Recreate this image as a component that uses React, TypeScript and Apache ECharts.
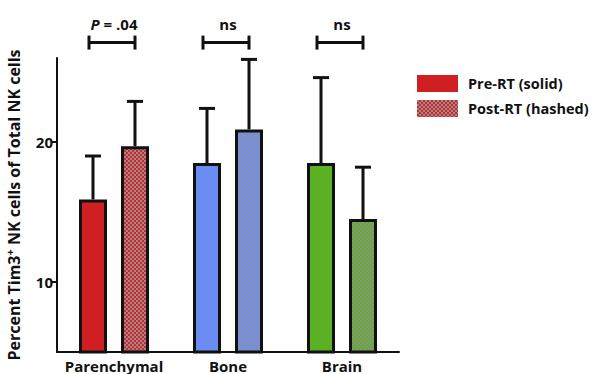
import React, { useEffect, useRef } from 'react';
import * as echarts from 'echarts';

const categories = ['Parenchymal', 'Bone', 'Brain'];
const preValues = [15.9, 18.5, 18.5];
const preErrTop = [19.0, 22.4, 24.6];
const postValues = [19.7, 20.9, 14.5];
const postErrTop = [22.9, 25.9, 18.2];
const sigLabels = ['{i|P} = .04', 'ns', 'ns'];
const sigLevel = [27.1, 27.1, 27.1];
const yTicks = [10, 20];

const solidColors = ['#d01f22', '#6b8cf3', '#5cb024'];
const checkerColors: [string, string][] = [
  ['#d2262b', '#9b8a8b'],
  ['#6d8ff2', '#8b90aa'],
  ['#5db027', '#8a9282'],
];

const FONT = '"Open Sans", "DejaVu Sans", sans-serif';

function makeChecker(a: string, b: string) {
  const c = document.createElement('canvas');
  c.width = 4;
  c.height = 4;
  const ctx = c.getContext('2d')!;
  ctx.fillStyle = a;
  ctx.fillRect(0, 0, 4, 4);
  ctx.fillStyle = b;
  ctx.fillRect(0, 0, 2, 2);
  ctx.fillRect(2, 2, 2, 2);
  return { image: c, repeat: 'repeat', imageWidth: 4, imageHeight: 4 } as any;
}

const BAR_W = 28;
const OFFSET = 21;

function errorRenderer(offset: number) {
  return (params: any, api: any) => {
    const base = api.coord([api.value(0), api.value(1)]);
    const top = api.coord([api.value(0), api.value(2)]);
    const x = base[0] + offset;
    return {
      type: 'group',
      children: [
        { type: 'line', shape: { x1: x, y1: base[1], x2: x, y2: top[1] }, style: { stroke: '#111', lineWidth: 3 } },
        { type: 'line', shape: { x1: x - 8, y1: top[1], x2: x + 8, y2: top[1] }, style: { stroke: '#111', lineWidth: 3 } },
      ],
    };
  };
}

export default function App() {
  const ref = useRef<HTMLDivElement>(null);
  useEffect(() => {
    if (!ref.current) return;
    const chart = echarts.init(ref.current, null, { renderer: 'svg' });
    const patterns = checkerColors.map(([a, b]) => makeChecker(a, b));
    const option: any = {
      animation: false,
      grid: { left: 57, right: 200, top: 58, bottom: 22, outerBoundsMode: 'none', containLabel: false },
      legend: {
        orient: 'vertical',
        left: 417,
        top: 75,
        padding: 0,
        itemWidth: 41,
        itemHeight: 17,
        itemGap: 8,
        icon: 'rect',
        textStyle: { fontFamily: FONT, fontWeight: 'bold', fontSize: 14.5, color: '#111', padding: [0, 0, 0, 5] },
        data: [
          { name: 'Pre-RT (solid)', itemStyle: { color: solidColors[0], borderWidth: 0 } },
          { name: 'Post-RT (hashed)', itemStyle: { color: patterns[0], borderWidth: 0 } },
        ],
      },
      xAxis: {
        type: 'category',
        data: categories,
        axisLine: { lineStyle: { color: '#111', width: 2 } },
        axisTick: { alignWithLabel: true, length: 5, lineStyle: { color: '#111', width: 2 } },
        axisLabel: { interval: 0, fontFamily: FONT, fontWeight: 'bold', fontSize: 15, color: '#111', margin: 6, hideOverlap: false },
      },
      yAxis: {
        type: 'value',
        min: 5,
        max: 26,
        splitLine: { show: false },
        axisLine: { show: true, lineStyle: { color: '#111', width: 2 } },
        axisTick: { show: true, customValues: yTicks, length: 5, lineStyle: { color: '#111', width: 2 } },
        axisLabel: { customValues: yTicks, fontFamily: FONT, fontWeight: 'bold', fontSize: 15, color: '#111', margin: 4 },
        name: 'Percent Tim3{sup|+} NK cells of Total NK cells',
        nameLocation: 'middle',
        nameGap: 34,
        nameTextStyle: {
          fontFamily: FONT,
          fontWeight: 'bold',
          fontSize: 16,
          color: '#111',
          rich: {
            sup: { fontFamily: FONT, fontWeight: 'bold', fontSize: 11, color: '#111', verticalAlign: 'top', lineHeight: 19 },
          },
        },
      },
      series: [
        {
          name: 'Pre-RT (solid)',
          type: 'bar',
          barWidth: BAR_W,
          barGap: '50%',
          z: 2,
          data: preValues.map((v, i) => ({
            value: v,
            itemStyle: { color: solidColors[i], borderColor: '#111', borderWidth: 3 },
          })),
        },
        {
          name: 'Post-RT (hashed)',
          type: 'bar',
          barWidth: BAR_W,
          barGap: '50%',
          z: 2,
          data: postValues.map((v, i) => ({
            value: v,
            itemStyle: { color: patterns[i], borderColor: '#111', borderWidth: 3 },
          })),
        },
        {
          type: 'custom',
          z: 3,
          renderItem: errorRenderer(-OFFSET),
          data: categories.map((c, i) => [i, preValues[i], preErrTop[i]]),
          silent: true,
        },
        {
          type: 'custom',
          z: 3,
          renderItem: errorRenderer(OFFSET),
          data: categories.map((c, i) => [i, postValues[i], postErrTop[i]]),
          silent: true,
        },
        {
          type: 'custom',
          z: 3,
          clip: false,
          silent: true,
          data: categories.map((c, i) => [i, sigLevel[i]]),
          renderItem: (params: any, api: any) => {
            const p = api.coord([api.value(0), api.value(1)]);
            const cx = p[0] - 2;
            const cy = p[1];
            const half = 23;
            return {
              type: 'group',
              children: [
                { type: 'line', shape: { x1: cx - half, y1: cy, x2: cx + half, y2: cy }, style: { stroke: '#111', lineWidth: 3 } },
                { type: 'line', shape: { x1: cx - half, y1: cy - 7, x2: cx - half, y2: cy + 7 }, style: { stroke: '#111', lineWidth: 3 } },
                { type: 'line', shape: { x1: cx + half, y1: cy - 7, x2: cx + half, y2: cy + 7 }, style: { stroke: '#111', lineWidth: 3 } },
                {
                  type: 'text',
                  style: {
                    text: sigLabels[params.dataIndex],
                    x: cx + 2,
                    y: cy - 19,
                    align: 'center',
                    verticalAlign: 'middle',
                    fontFamily: FONT,
                    fontWeight: 'bold',
                    fontSize: 15,
                    fill: '#111',
                    rich: {
                      i: { fontFamily: FONT, fontWeight: 'bold', fontStyle: 'italic', fontSize: 15, fill: '#111' },
                    },
                  },
                },
              ],
            };
          },
        },
      ],
    };
    chart.setOption(option);
    return () => chart.dispose();
  }, []);
  return <div ref={ref} style={{ position: 'fixed', left: 0, top: 0, width: 599, height: 374, background: '#fff' }} />;
}
